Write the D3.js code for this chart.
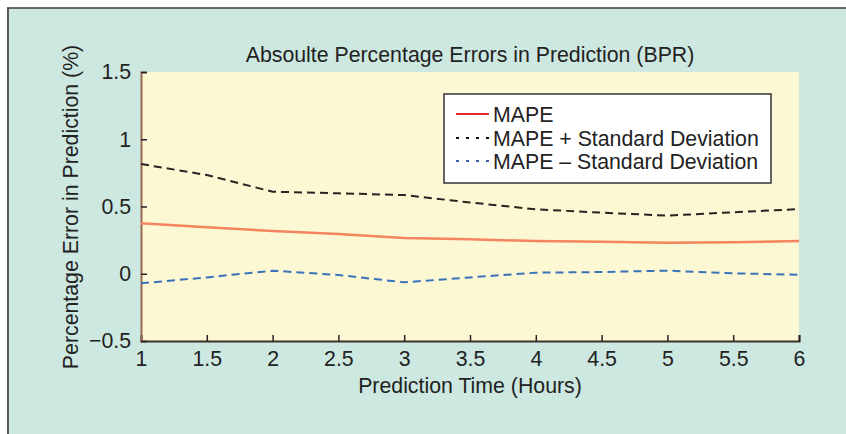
<!DOCTYPE html>
<html><head><meta charset="utf-8">
<script src="https://cdn.jsdelivr.net/npm/d3@7"></script>
<style>
html,body{margin:0;padding:0;background:#fff;}
svg{display:block;font-family:"Liberation Sans",Arial,sans-serif;}
</style></head>
<body>
<svg id="chart" width="846" height="434"></svg>
<script>
const hours = [1, 1.5, 2, 2.5, 3, 3.5, 4, 4.5, 5, 5.5, 6];
const mape = [0.375, 0.345, 0.318, 0.296, 0.266, 0.256, 0.243, 0.238, 0.231, 0.234, 0.243];
const mapePlusSD = [0.816, 0.734, 0.610, 0.598, 0.585, 0.530, 0.479, 0.454, 0.432, 0.457, 0.481];
const mapeMinusSD = [-0.071, -0.027, 0.023, -0.009, -0.064, -0.027, 0.008, 0.013, 0.023, 0.003, -0.007];
const xTicks = [1, 1.5, 2, 2.5, 3, 3.5, 4, 4.5, 5, 5.5, 6];
const yTicks = [-0.5, 0, 0.5, 1, 1.5];
const legendLabels = ["MAPE", "MAPE + Standard Deviation", "MAPE \u2013 Standard Deviation"];
const titleText = "Absoulte Percentage Errors in Prediction (BPR)";
const xLabel = "Prediction Time (Hours)";
const yLabel = "Percentage Error in Prediction (%)";

const svg = d3.select("#chart");
const W = 846, H = 434;
const m = {left: 141, right: 799, top: 72, bottom: 341};
const FS = 21.3;

// outer panel
svg.append("rect").attr("x", 8).attr("y", 8).attr("width", W - 8).attr("height", H - 8).attr("fill", "#cde8e0");
svg.append("line").attr("x1", 8).attr("x2", 8).attr("y1", 8).attr("y2", H).attr("stroke", "#5a5a5a").attr("stroke-width", 2);
svg.append("line").attr("x1", 7).attr("x2", W).attr("y1", 8).attr("y2", 8).attr("stroke", "#3a3a3a").attr("stroke-width", 1.5);

const x = d3.scaleLinear().domain([1, 6]).range([m.left, m.right]);
const y = d3.scaleLinear().domain([-0.5, 1.5]).range([m.bottom, m.top]);

svg.append("rect").attr("x", x(1)).attr("y", y(1.5)).attr("width", x(6) - x(1)).attr("height", y(-0.5) - y(1.5)).attr("fill", "#fdf8d4");

// axes
const xAxis = svg.append("g").attr("transform", `translate(0,${m.bottom})`)
  .call(d3.axisBottom(x).tickValues(xTicks).tickSize(-6).tickPadding(10).tickFormat(d3.format("")));
const yAxis = svg.append("g").attr("transform", `translate(${m.left},0)`)
  .call(d3.axisLeft(y).tickValues(yTicks).tickSize(-6).tickPadding(10).tickFormat(d => d < 0 ? "\u2212" + Math.abs(d) : String(d)));
[xAxis, yAxis].forEach(g => {
  g.selectAll("text").attr("font-size", FS).attr("fill", "#222").attr("font-family", "Liberation Sans, Arial, sans-serif");
  g.selectAll(".tick line").attr("stroke", "#222").attr("stroke-width", 1.5);
});
xAxis.select(".domain").attr("stroke", "#3a3028").attr("stroke-width", 2);
yAxis.select(".domain").attr("stroke", "#9a6a50").attr("stroke-width", 2);
xAxis.selectAll("text").attr("dy", "0.72em");

const line = d3.line().x((d, i) => x(hours[i])).y(d => y(d));

svg.append("path").datum(mape).attr("d", line).attr("fill", "none")
  .attr("stroke", "#f5845f").attr("stroke-width", 2.5);
svg.append("path").datum(mapePlusSD).attr("d", line).attr("fill", "none")
  .attr("stroke", "#2a2220").attr("stroke-width", 2).attr("stroke-dasharray", "8,5");
svg.append("path").datum(mapeMinusSD).attr("d", line).attr("fill", "none")
  .attr("stroke", "#3a72b8").attr("stroke-width", 2).attr("stroke-dasharray", "8,5");

// title and labels
svg.append("text").attr("x", (m.left + m.right) / 2).attr("y", 62).attr("text-anchor", "middle")
  .attr("font-size", FS).attr("fill", "#222").text(titleText);
svg.append("text").attr("x", (m.left + m.right) / 2).attr("y", 393).attr("text-anchor", "middle")
  .attr("font-size", FS).attr("fill", "#222").text(xLabel);
svg.append("text").attr("transform", `translate(78,207) rotate(-90)`).attr("text-anchor", "middle")
  .attr("font-size", FS).attr("fill", "#222").text(yLabel);

// legend
const lg = svg.append("g");
lg.append("rect").attr("x", 444).attr("y", 94).attr("width", 327).attr("height", 89)
  .attr("fill", "#fff").attr("stroke", "#333").attr("stroke-width", 1.5);
const legendStyles = [
  {color: "#e8262d", dash: null},
  {color: "#111", dash: "3,7"},
  {color: "#3b5ca8", dash: "3,7"}
];
const rowY = [114, 138, 161];
legendLabels.forEach((lab, i) => {
  const l = lg.append("line").attr("x1", 456).attr("x2", 489).attr("y1", rowY[i]).attr("y2", rowY[i])
    .attr("stroke", legendStyles[i].color).attr("stroke-width", 2);
  if (legendStyles[i].dash) l.attr("stroke-dasharray", legendStyles[i].dash);
  lg.append("text").attr("x", 493).attr("y", rowY[i] + 7.5).attr("font-size", FS).attr("fill", "#222").text(lab);
});
</script>
</body></html>
